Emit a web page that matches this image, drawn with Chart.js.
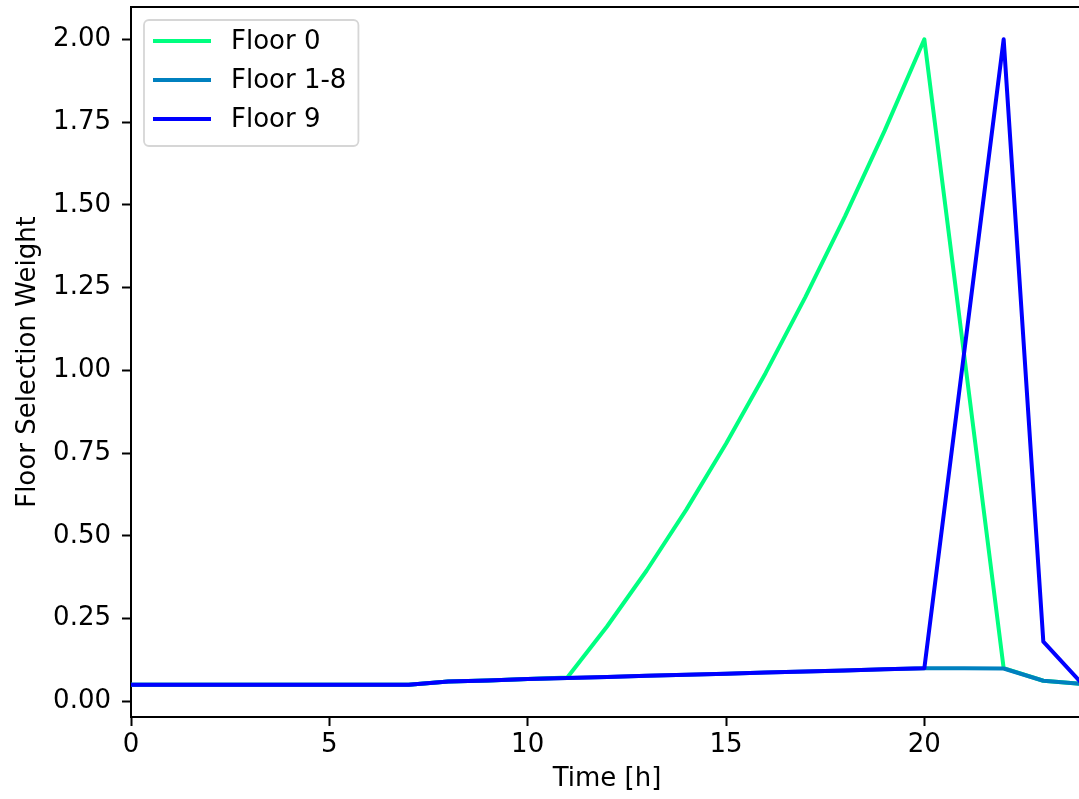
<!DOCTYPE html>
<html>
<head>
<meta charset="utf-8">
<script src="https://cdn.jsdelivr.net/npm/chart.js@4.4.1/dist/chart.umd.min.js"></script>
<style>
  html, body { margin: 0; padding: 0; background: #fff; overflow: hidden; }
  #wrap { width: 1100px; height: 799px; }
</style>
</head>
<body>
<div id="wrap"><canvas id="weights" width="1100" height="799"></canvas></div>
<script>
// hourly floor selection weights
const hours = [0, 1, 2, 3, 4, 5, 6, 7, 8, 9, 10, 11, 12, 13, 14, 15, 16, 17, 18, 19, 20, 21, 22, 23, 24];
const floor0 = [0.05, 0.05, 0.05, 0.05, 0.05, 0.05, 0.05, 0.05, 0.06, 0.063, 0.067, 0.072,
  0.226, 0.395, 0.579, 0.778, 0.992, 1.221, 1.465, 1.724, 2.0, 1.05, 0.1, 0.062, 0.052];
const floor1to8 = [0.05, 0.05, 0.05, 0.05, 0.05, 0.05, 0.05, 0.05, 0.06, 0.063, 0.067, 0.07,
  0.073, 0.077, 0.08, 0.083, 0.087, 0.09, 0.093, 0.097, 0.1, 0.1, 0.099, 0.062, 0.052];
const floor9 = [0.05, 0.05, 0.05, 0.05, 0.05, 0.05, 0.05, 0.05, 0.06, 0.063, 0.067, 0.07,
  0.073, 0.077, 0.08, 0.083, 0.087, 0.09, 0.093, 0.097, 0.1, 1.05, 2.0, 0.18, 0.05];

const xTicks = [0, 5, 10, 15, 20];
const yTicks = [0, 0.25, 0.5, 0.75, 1.0, 1.25, 1.5, 1.75, 2.0];

const FONT = "'DejaVu Sans', sans-serif";
const FSIZE = 26;

const toXY = (ys) => hours.map((h, i) => ({ x: h, y: ys[i] }));

// legend box in the upper left corner of the plot
const boxLegend = {
  id: "boxLegend",
  afterDraw(chart) {
    const { ctx, chartArea } = chart;
    const x0 = chartArea.left + 13;
    const y0 = chartArea.top + 13;
    const rowH = 39;
    ctx.save();
    ctx.font = FSIZE + "px " + FONT;
    let maxW = 0;
    chart.data.datasets.forEach((ds) => {
      maxW = Math.max(maxW, ctx.measureText(ds.label).width);
    });
    const w = 87 + maxW + 12;
    const h = 21 + rowH * (chart.data.datasets.length - 1) + 27;
    ctx.beginPath();
    ctx.roundRect(x0, y0, w, h, 5);
    ctx.fillStyle = "rgba(255,255,255,0.8)";
    ctx.fill();
    ctx.lineWidth = 1.8;
    ctx.strokeStyle = "#d6d6d6";
    ctx.stroke();
    chart.data.datasets.forEach((ds, i) => {
      const y = y0 + 21 + i * rowH;
      ctx.beginPath();
      ctx.moveTo(x0 + 9, y);
      ctx.lineTo(x0 + 67, y);
      ctx.strokeStyle = ds.borderColor;
      ctx.lineWidth = 4;
      ctx.stroke();
      ctx.fillStyle = "#000";
      ctx.textBaseline = "middle";
      ctx.fillText(ds.label, x0 + 87, y + 1);
    });
    ctx.restore();
  },
};

// top spine
const topSpine = {
  id: "topSpine",
  afterDraw(chart) {
    const { ctx, chartArea } = chart;
    ctx.save();
    ctx.strokeStyle = "#000";
    ctx.lineWidth = 2;
    ctx.beginPath();
    ctx.moveTo(chartArea.left - 1, chartArea.top);
    ctx.lineTo(chartArea.right + 1, chartArea.top);
    ctx.moveTo(chartArea.right, chartArea.top);
    ctx.lineTo(chartArea.right, chartArea.bottom);
    ctx.stroke();
    ctx.restore();
  },
};

const line = (label, ys, color, order) => ({
  label,
  data: toXY(ys),
  borderColor: color,
  backgroundColor: color,
  borderWidth: 4,
  pointRadius: 0,
  tension: 0,
  borderJoinStyle: "round",
  order,
});

new Chart(document.getElementById("weights"), {
  type: "line",
  data: {
    datasets: [
      line("Floor 0", floor0, "#00ff80", 3),
      line("Floor 1-8", floor1to8, "#0080bf", 2),
      line("Floor 9", floor9, "#0000ff", 1),
    ],
  },
  options: {
    responsive: false,
    animation: false,
    layout: { padding: { left: 0, top: 7, right: 17, bottom: 0 } },
    plugins: { legend: { display: false }, tooltip: { enabled: false } },
    scales: {
      x: {
        type: "linear",
        min: 0,
        max: 24,
        afterBuildTicks: (s) => { s.ticks = xTicks.map((v) => ({ value: v })); },
        afterFit: (s) => { s.height = 82; s.paddingLeft = 0; s.paddingRight = 0; },
        grid: { drawOnChartArea: false, drawTicks: true, tickLength: 9, tickWidth: 2, tickColor: "#000" },
        border: { display: true, color: "#000", width: 2 },
        ticks: { color: "#000", font: { family: FONT, size: FSIZE }, padding: 4, maxRotation: 0, autoSkip: false },
        title: { display: true, text: "Time [h]", color: "#000", font: { family: FONT, size: FSIZE }, padding: { top: 0, bottom: 4 } },
      },
      y: {
        min: -0.0475,
        max: 2.0975,
        afterBuildTicks: (s) => { s.ticks = yTicks.map((v) => ({ value: v })); },
        afterFit: (s) => { s.width = 131; s.paddingTop = 0; s.paddingBottom = 0; },
        grid: { drawOnChartArea: false, drawTicks: true, tickLength: 9, tickWidth: 2, tickColor: "#000" },
        border: { display: true, color: "#000", width: 2 },
        ticks: { color: "#000", font: { family: FONT, size: FSIZE }, padding: 11, callback: (v) => v.toFixed(2) },
        title: { display: true, text: "Floor Selection Weight", color: "#000", font: { family: FONT, size: FSIZE }, padding: { top: 13, bottom: 0 } },
      },
    },
  },
  plugins: [boxLegend, topSpine],
});
</script>
</body>
</html>
